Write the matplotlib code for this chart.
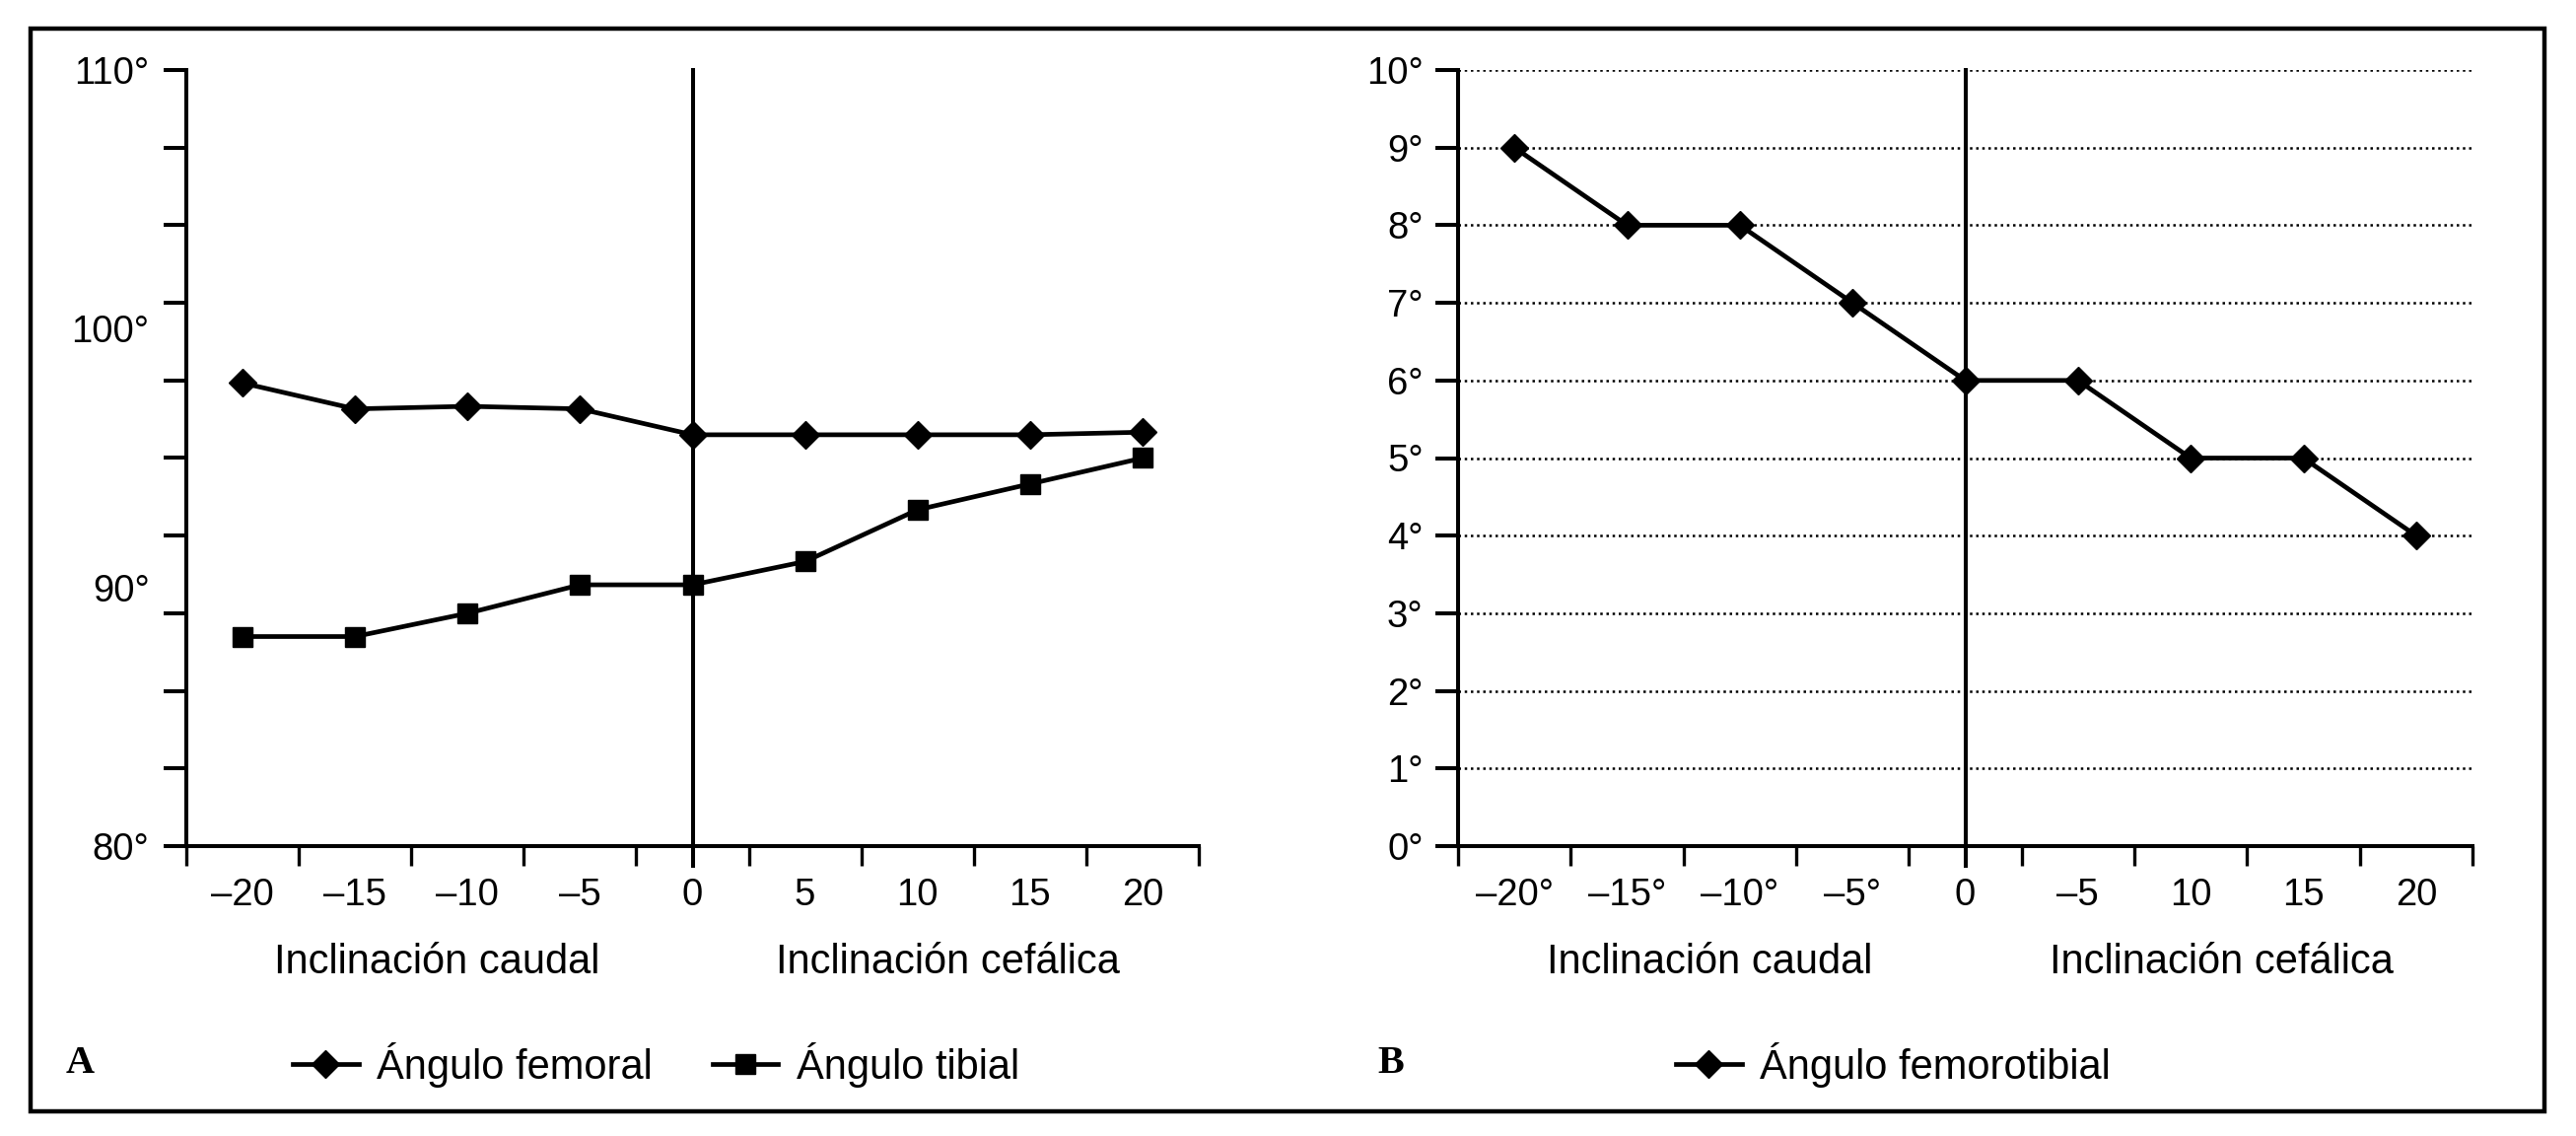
import matplotlib
matplotlib.use("Agg")
import matplotlib.pyplot as plt
from matplotlib.patches import Rectangle

plt.rcParams['font.family'] = ['Liberation Sans', 'DejaVu Sans']

# data
cats = ['-20', '-15', '-10', '-5', '0', '5', '10', '15', '20']
labels_a = ['\u201320', '\u201315', '\u201310', '\u20135', '0', '5', '10', '15', '20']
labels_b = ['\u201320\u00b0', '\u201315\u00b0', '\u201310\u00b0', '\u20135\u00b0', '0', '\u20135', '10', '15', '20']
femoral = [97.9, 96.9, 97.0, 96.9, 95.9, 95.9, 95.9, 95.9, 96.0]
tibial = [88.1, 88.1, 89.0, 90.1, 90.1, 91.0, 93.0, 94.0, 95.0]
femorotibial = [9, 8, 8, 7, 6, 6, 5, 5, 4]
ylab_a = [80, 90, 100, 110]

W, H = 2613, 1152
fig = plt.figure(figsize=(W / 100, H / 100), dpi=100)

LW = 3.4
AX_LW = 2.9
DMS = 14.5
x = list(range(len(cats)))
zero = cats.index('0')


def px(l, t, r, b):
    return [l / W, 1 - b / H, (r - l) / W, (b - t) / H]


def style_axes(ax, xlabels):
    for s in ['top', 'right']:
        ax.spines[s].set_visible(False)
    for s in ['left', 'bottom']:
        ax.spines[s].set_linewidth(AX_LW)
    ax.xaxis.remove_overlapping_locs = False
    ax.yaxis.remove_overlapping_locs = False
    ax.set_xlim(-0.5, len(cats) - 0.5)
    ax.set_xticks([i - 0.5 for i in range(len(cats) + 1)])
    ax.set_xticklabels([])
    ax.set_xticks(x, minor=True)
    ax.set_xticklabels(xlabels, minor=True)
    ax.tick_params(axis='x', which='major', direction='out', length=14.5, width=2.4)
    ax.tick_params(axis='x', which='minor', length=0, pad=23, labelsize=27.5)
    # vertical line at 0
    ax.plot([zero, zero], [-0.026, 1], color='k', lw=2.9,
            transform=ax.get_xaxis_transform(), clip_on=False, zorder=1)
    ax.text(1.73, -0.164, 'Inclinación caudal', transform=ax.get_xaxis_transform(),
            ha='center', va='baseline', fontsize=30)
    ax.text(6.27, -0.164, 'Inclinación cefálica', transform=ax.get_xaxis_transform(),
            ha='center', va='baseline', fontsize=30)


# panel A
axA = fig.add_axes(px(189, 71, 1216, 858))
lf, = axA.plot(x, femoral, color='k', lw=LW, marker='D', ms=DMS, zorder=3)
lt, = axA.plot(x, tibial, color='k', lw=LW, marker='s', ms=14.4, zorder=3)
axA.set_ylim(80, 110)
style_axes(axA, labels_a)
axA.set_yticks(list(range(80, 111, 3)))
axA.set_yticklabels([])
axA.set_yticks(ylab_a, minor=True)
axA.set_yticklabels([f'{v}\u00b0' for v in ylab_a], minor=True)
axA.tick_params(axis='y', which='major', direction='out', length=16.5, width=2.9)
axA.tick_params(axis='y', which='minor', length=0, pad=27, labelsize=27.5)

# panel B
axB = fig.add_axes(px(1479, 71, 2508, 858))
axB.hlines(range(1, 11), -0.5, len(cats) - 0.5, colors='k', lw=1.8,
           linestyles=(0, (1, 1.5)), zorder=1)
lb, = axB.plot(x, femorotibial, color='k', lw=LW, marker='D', ms=DMS, zorder=3)
axB.set_ylim(0, 10)
style_axes(axB, labels_b)
axB.set_yticks(range(0, 11))
axB.set_yticklabels([f'{v}\u00b0' for v in range(0, 11)])
axB.tick_params(axis='y', direction='out', length=16.5, width=2.9, pad=9, labelsize=27.5)

# legends
fig.legend([lf, lt], ['Ángulo femoral', 'Ángulo tibial'], loc='center left',
           bbox_to_anchor=(297 / W, 1 - 1080 / H), frameon=False, ncol=2,
           handlelength=1.6, handletextpad=0.45, columnspacing=1.45,
           borderpad=0, borderaxespad=0, fontsize=30)
fig.legend([lb], ['Ángulo femorotibial'], loc='center left',
           bbox_to_anchor=(1700 / W, 1 - 1080 / H), frameon=False,
           handlelength=1.6, handletextpad=0.45,
           borderpad=0, borderaxespad=0, fontsize=30)

fig.text(67 / W, 1 - 1078 / H, 'A', family='Liberation Serif', weight='bold',
         fontsize=29, ha='left', va='center')
fig.text(1397 / W, 1 - 1078 / H, 'B', family='Liberation Serif', weight='bold',
         fontsize=29, ha='left', va='center')

# outer frame
fig.patches.append(Rectangle((31 / W, 1 - 1127 / H), 2550 / W, 1098 / H,
                             transform=fig.transFigure, fill=False, lw=3.2,
                             edgecolor='k'))

fig.savefig('out.png', dpi=100)
